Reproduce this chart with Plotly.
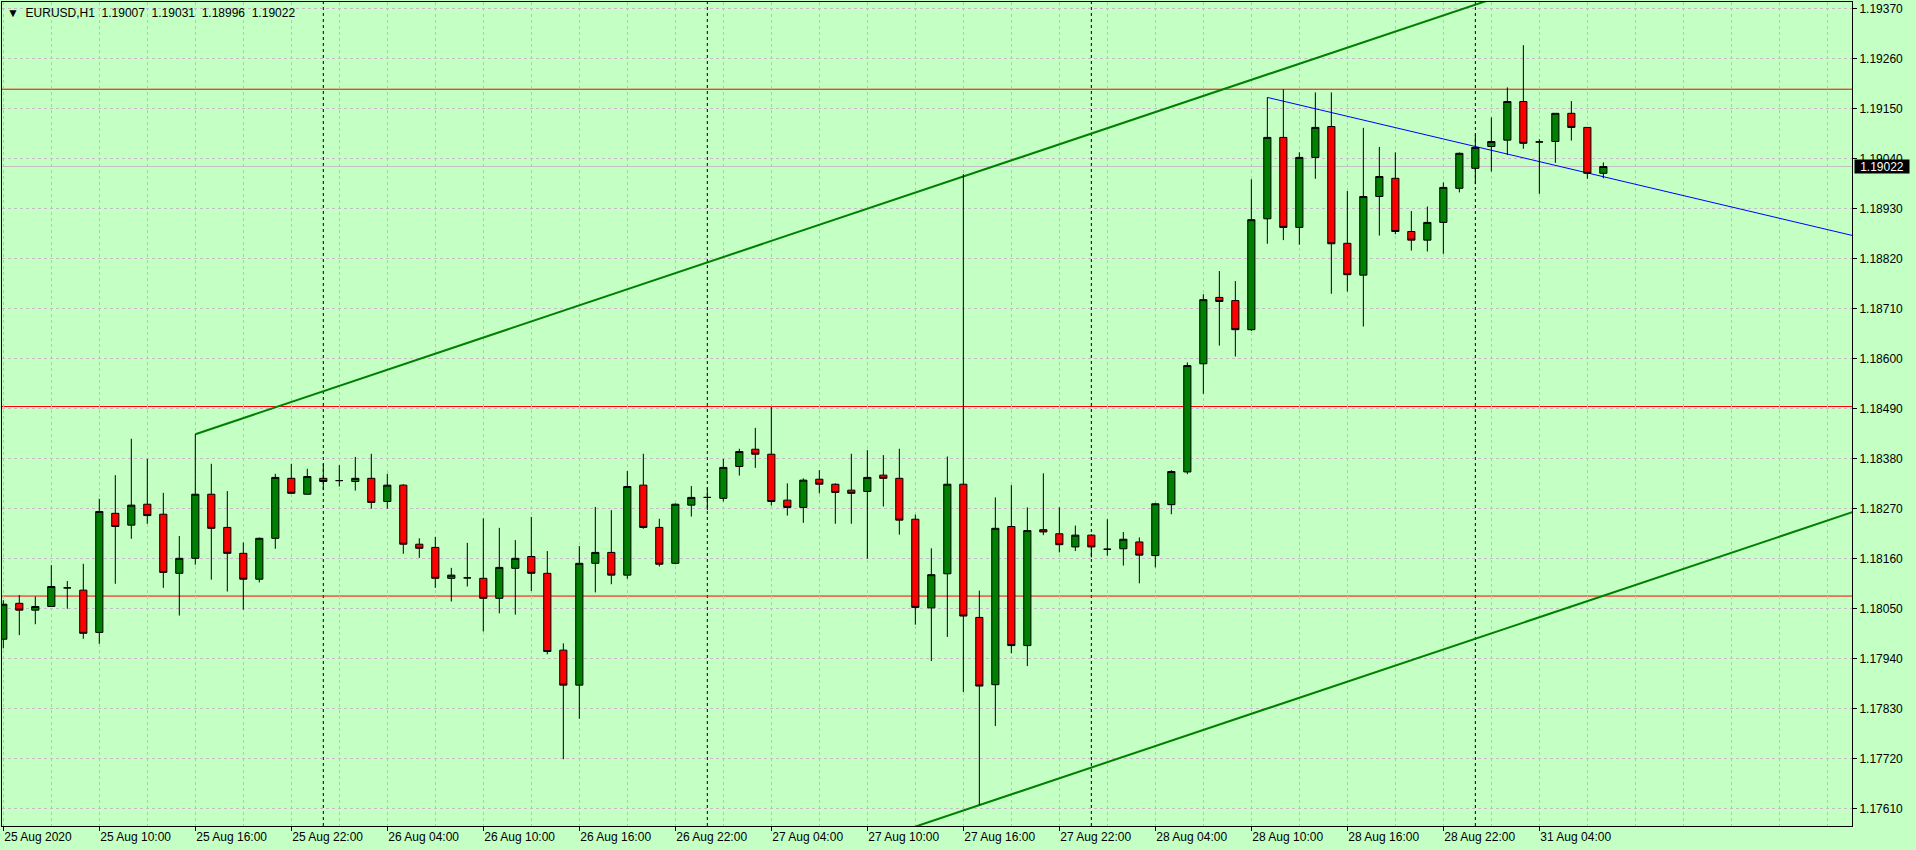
import plotly.graph_objects as go

# ---------------- data (EURUSD H1, 25 Aug 04:00 .. 31 Aug 08:00) ----------------
opens = [1.17982, 1.18061, 1.18046, 1.18054, 1.18095, 1.18090, 1.17997, 1.18259, 1.18233, 1.18279,
         1.18257, 1.18127, 1.18160, 1.18301, 1.18228, 1.18171, 1.18114, 1.18204, 1.18336, 1.18301,
         1.18336, 1.18331, 1.18329, 1.18336, 1.18285, 1.18321, 1.18191, 1.18184, 1.18116, 1.18117,
         1.18116, 1.18072, 1.18138, 1.18164, 1.18127, 1.17958, 1.17881, 1.18149, 1.18173, 1.18123,
         1.18321, 1.18228, 1.18149, 1.18277, 1.18294, 1.18292, 1.18362, 1.18400, 1.18389, 1.18288,
         1.18272, 1.18334, 1.18323, 1.18310, 1.18307, 1.18343, 1.18336, 1.18246, 1.18051, 1.18126,
         1.18323, 1.18030, 1.17882, 1.18230, 1.17968, 1.18223, 1.18214, 1.18185, 1.18211, 1.18180,
         1.18181, 1.18196, 1.18166, 1.18278, 1.18350, 1.18588, 1.18734, 1.18727, 1.18663, 1.18907,
         1.19086, 1.18888, 1.19042, 1.19110, 1.18853, 1.18783, 1.18956, 1.18996, 1.18879, 1.18860,
         1.18899, 1.18974, 1.19018, 1.19066, 1.19080, 1.19165, 1.19076, 1.19077, 1.19139, 1.19108,
         1.19007]
highs = [1.18068, 1.18079, 1.18076, 1.18145, 1.18110, 1.18148, 1.18291, 1.18343, 1.18423, 1.18379,
         1.18304, 1.18209, 1.18433, 1.18368, 1.18308, 1.18195, 1.18206, 1.18346, 1.18368, 1.18357,
         1.18368, 1.18365, 1.18383, 1.18390, 1.18346, 1.18323, 1.18204, 1.18207, 1.18139, 1.18194,
         1.18248, 1.18227, 1.18200, 1.18251, 1.18176, 1.17973, 1.18187, 1.18273, 1.18266, 1.18352,
         1.18390, 1.18247, 1.18281, 1.18319, 1.18316, 1.18379, 1.18401, 1.18447, 1.18494, 1.18325,
         1.18336, 1.18354, 1.18325, 1.18390, 1.18398, 1.18387, 1.18401, 1.18256, 1.18182, 1.18384,
         1.19005, 1.18089, 1.18294, 1.18321, 1.18272, 1.18347, 1.18272, 1.18232, 1.18213, 1.18246,
         1.18218, 1.18206, 1.18282, 1.18354, 1.18591, 1.18741, 1.18792, 1.18770, 1.18994, 1.19174,
         1.19192, 1.19053, 1.19185, 1.19185, 1.18968, 1.19107, 1.19065, 1.19053, 1.18924, 1.18934,
         1.18987, 1.19053, 1.19093, 1.19130, 1.19196, 1.19289, 1.19082, 1.19139, 1.19166, 1.19108,
         1.19031]
lows = [1.17962, 1.17991, 1.18015, 1.18053, 1.18049, 1.17983, 1.17972, 1.18104, 1.18203, 1.18236,
        1.18095, 1.18034, 1.18146, 1.18113, 1.18087, 1.18047, 1.18107, 1.18181, 1.18302, 1.18300,
        1.18310, 1.18318, 1.18309, 1.18269, 1.18269, 1.18170, 1.18161, 1.18095, 1.18065, 1.18098,
        1.17999, 1.18039, 1.18036, 1.18088, 1.17949, 1.17718, 1.17807, 1.18085, 1.18103, 1.18115,
        1.18225, 1.18142, 1.18147, 1.18252, 1.18266, 1.18285, 1.18342, 1.18359, 1.18276, 1.18254,
        1.18238, 1.18303, 1.18236, 1.18236, 1.18159, 1.18274, 1.18212, 1.18014, 1.17934, 1.17987,
        1.17866, 1.17617, 1.17791, 1.17951, 1.17923, 1.18211, 1.18173, 1.18176, 1.18162, 1.18166,
        1.18144, 1.18105, 1.18140, 1.18257, 1.18345, 1.18522, 1.18628, 1.18604, 1.18660, 1.18852,
        1.18860, 1.18850, 1.18995, 1.18742, 1.18747, 1.18670, 1.18870, 1.18873, 1.18837, 1.18835,
        1.18830, 1.18965, 1.18983, 1.19011, 1.19047, 1.19061, 1.18962, 1.19030, 1.19079, 1.18995,
        1.18996]
closes = [1.18059, 1.18046, 1.18054, 1.18098, 1.18095, 1.17995, 1.18263, 1.18230, 1.18277, 1.18254,
          1.18129, 1.18160, 1.18301, 1.18226, 1.18171, 1.18114, 1.18204, 1.18338, 1.18303, 1.18340,
          1.18329, 1.18331, 1.18336, 1.18283, 1.18321, 1.18191, 1.18182, 1.18116, 1.18123, 1.18117,
          1.18072, 1.18140, 1.18160, 1.18127, 1.17955, 1.17881, 1.18149, 1.18173, 1.18123, 1.18318,
          1.18228, 1.18147, 1.18279, 1.18294, 1.18294, 1.18360, 1.18395, 1.18389, 1.18285, 1.18272,
          1.18332, 1.18323, 1.18305, 1.18303, 1.18338, 1.18336, 1.18244, 1.18052, 1.18124, 1.18323,
          1.18033, 1.17879, 1.18226, 1.17968, 1.18221, 1.18218, 1.18190, 1.18211, 1.18185, 1.18180,
          1.18202, 1.18167, 1.18280, 1.18351, 1.18584, 1.18729, 1.18725, 1.18663, 1.18905, 1.19086,
          1.18888, 1.19042, 1.19108, 1.18852, 1.18784, 1.18956, 1.19000, 1.18879, 1.18860, 1.18899,
          1.18976, 1.19051, 1.19064, 1.19077, 1.19165, 1.19073, 1.19076, 1.19139, 1.19108, 1.19007,
          1.19022]

# x-axis labels (every 6 bars)
label_bars = [0, 6, 12, 18, 24, 30, 36, 42, 48, 54, 60, 66, 72, 78, 84, 90, 96]
label_text = ["25 Aug 2020", "25 Aug 10:00", "25 Aug 16:00", "25 Aug 22:00", "26 Aug 04:00",
              "26 Aug 10:00", "26 Aug 16:00", "26 Aug 22:00", "27 Aug 04:00", "27 Aug 10:00",
              "27 Aug 16:00", "27 Aug 22:00", "28 Aug 04:00", "28 Aug 10:00", "28 Aug 16:00",
              "28 Aug 22:00", "31 Aug 04:00"]
day_separators = [20, 44, 68, 92]

# y-axis ticks
price_ticks = [1.17610, 1.17720, 1.17830, 1.17940, 1.18050, 1.18160, 1.18270, 1.18380, 1.18490,
               1.18600, 1.18710, 1.18820, 1.18930, 1.19040, 1.19150, 1.19260, 1.19370]

# chart objects
h_levels = [1.19192, 1.18494, 1.18077]
channel_anchor_x = [12, 60]          # upper channel line through two highs
channel_anchor_y = [1.18433, 1.19000]
channel_low_x = 61                   # parallel line through this low
channel_low_y = 1.17617
blue_anchor_x = [79, 92]
blue_anchor_y = [1.19174, 1.19066]

symbol = "EURUSD,H1"

# ---------------- figure ----------------
BG = "#C4FFC4"
GRID = "#C6BCC6"
FONT = "Liberation Sans, Arial, sans-serif"
x_lo, x_hi = -0.081, 115.54
y_lo, y_hi = 1.175711, 1.193839
n = len(closes)
xs = list(range(n))

fig = go.Figure()
fig.add_trace(go.Candlestick(
    x=xs, open=opens, high=highs, low=lows, close=closes,
    increasing=dict(fillcolor="#008000", line=dict(color="black", width=1)),
    decreasing=dict(fillcolor="#FF0000", line=dict(color="black", width=1)),
    whiskerwidth=0, showlegend=False, hoverinfo="skip",
))

shapes = []
# period separators
for b in day_separators:
    shapes.append(dict(type="line", xref="x", yref="paper", x0=b, x1=b, y0=0, y1=1,
                       line=dict(color="black", width=1, dash="3px,3px"), layer="between"))
# horizontal levels
for lv in h_levels:
    shapes.append(dict(type="line", xref="paper", yref="y", x0=0, x1=1, y0=lv, y1=lv,
                       line=dict(color="#FF0000", width=1), layer="between"))
# current price line
shapes.append(dict(type="line", xref="paper", yref="y", x0=0, x1=1, y0=closes[-1], y1=closes[-1],
                   line=dict(color="#C0C0C0", width=1), layer="between"))
# equidistant channel
slope = (channel_anchor_y[1] - channel_anchor_y[0]) / (channel_anchor_x[1] - channel_anchor_x[0])
x_end = x_hi + 1
shapes.append(dict(type="line", xref="x", yref="y", x0=channel_anchor_x[0], y0=channel_anchor_y[0],
                   x1=x_end, y1=channel_anchor_y[0] + slope * (x_end - channel_anchor_x[0]),
                   line=dict(color="#008000", width=2), layer="between"))
low_start_y = channel_low_y + slope * (channel_anchor_x[0] - channel_low_x)
shapes.append(dict(type="line", xref="x", yref="y", x0=channel_anchor_x[0], y0=low_start_y,
                   x1=x_end, y1=channel_low_y + slope * (x_end - channel_low_x),
                   line=dict(color="#008000", width=2), layer="between"))
# blue trendline (ray)
bslope = (blue_anchor_y[1] - blue_anchor_y[0]) / (blue_anchor_x[1] - blue_anchor_x[0])
shapes.append(dict(type="line", xref="x", yref="y", x0=blue_anchor_x[0], y0=blue_anchor_y[0],
                   x1=x_end, y1=blue_anchor_y[0] + bslope * (x_end - blue_anchor_x[0]),
                   line=dict(color="#0000FF", width=1), layer="between"))

sp = "&nbsp;"
title_text = ("▼" + sp * 2 + symbol + sp * 2 +
              (sp * 2).join("%.5f" % v for v in (opens[-1], highs[-1], lows[-1], closes[-1])))

annotations = [
    dict(xref="paper", yref="paper", x=0, y=1, xanchor="left", yanchor="middle",
         xshift=3, yshift=-11, showarrow=False, text=title_text,
         font=dict(family=FONT, size=12, color="black")),
    dict(xref="paper", yref="y", x=1, y=closes[-1], xanchor="left", yanchor="middle",
         xshift=2, showarrow=False, text="%.5f" % closes[-1], bgcolor="black",
         width=54, height=13, borderpad=0, align="center",
         font=dict(family=FONT, size=12, color="white")),
]

fig.update_layout(
    width=1916, height=850,
    margin=dict(l=2, r=64, t=2, b=24),
    paper_bgcolor=BG, plot_bgcolor=BG,
    boxgap=0.36,
    showlegend=False,
    shapes=shapes, annotations=annotations,
    font=dict(family=FONT, size=12, color="black"),
    xaxis=dict(
        range=[x_lo, x_hi], rangeslider=dict(visible=False),
        tickmode="array", tickvals=label_bars, ticktext=label_text,
        ticklabelposition="outside right",
        ticks="outside", ticklen=4, tickcolor="black", tickwidth=1,
        showgrid=True, gridcolor=GRID, griddash="3px,3px", gridwidth=1,
        minor=dict(tickmode="linear", tick0=0, dtick=3, showgrid=True,
                   gridcolor=GRID, griddash="3px,3px", gridwidth=1, ticks=""),
        showline=True, linecolor="black", linewidth=1, mirror=True,
        zeroline=False, tickfont=dict(family=FONT, size=12, color="black"),
    ),
    yaxis=dict(
        range=[y_lo, y_hi], side="right",
        tickmode="array", tickvals=price_ticks, ticktext=["%.5f" % v for v in price_ticks],
        ticks="outside", ticklen=4, tickcolor="black", tickwidth=1,
        showgrid=True, gridcolor=GRID, griddash="3px,3px", gridwidth=1,
        showline=True, linecolor="black", linewidth=1, mirror=True,
        zeroline=False, tickfont=dict(family=FONT, size=12, color="black"),
    ),
)

fig.write_html("out.html",
               config={"displayModeBar": False},
               post_script="document.body.style.margin='0';document.body.style.overflow='hidden';")
